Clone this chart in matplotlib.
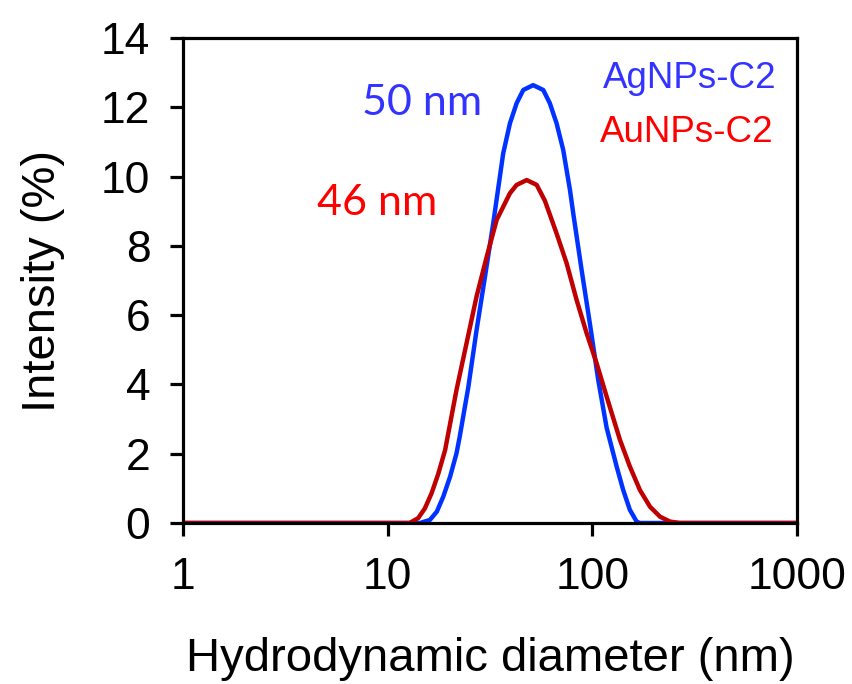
import matplotlib
matplotlib.use("Agg")
from matplotlib import pyplot as plt

# Hydrodynamic diameter (nm) and intensity (%)
ag_diameter = [1, 14.4, 16.1, 17.4, 18.7, 20.2, 21.7, 22.5, 24.8, 27.2, 29.9, 32.8, 36.7, 39.6,
               42.7, 46.0, 51.4, 57.6, 62.0, 66.9, 72.1, 77.8, 80.7, 88.7, 97.3, 106.9,
               117.5, 131.5, 141.6, 152.6, 164.7, 170.9, 1000]
ag_intensity = [0, 0, 0.09, 0.33, 0.76, 1.34, 2.01, 2.49, 3.93, 5.57, 7.11, 8.65, 10.67, 11.54,
                12.12, 12.50, 12.64, 12.50, 12.12, 11.54, 10.77, 9.61, 8.94, 7.30, 5.76, 4.13,
                2.75, 1.63, 0.95, 0.38, 0.04, 0, 0]

au_diameter = [1, 12.8, 14.1, 15.2, 16.4, 17.7, 19.1, 21.7, 24.3, 27.2, 30.5, 34.1, 39.6,
               42.7, 47.8, 53.5, 58.7, 66.9, 74.9, 83.8, 93.8, 105.0, 117.5, 136.5, 152.6,
               170.9, 191.4, 214.4, 240, 268, 1000]
au_intensity = [0, 0, 0.14, 0.42, 0.86, 1.43, 2.11, 3.84, 5.19, 6.54, 7.69, 8.75, 9.52,
                9.76, 9.90, 9.76, 9.30, 8.36, 7.50, 6.44, 5.48, 4.61, 3.65, 2.40, 1.63,
                0.95, 0.47, 0.18, 0.04, 0, 0]

plt.rcParams['font.family'] = ['Liberation Sans', 'DejaVu Sans']

fig = plt.figure(figsize=(8.53, 6.84), dpi=100)
ax = fig.add_axes([0.2145, 0.2354, 0.7198, 0.709])

ax.plot(ag_diameter, ag_intensity, color='#0033ff', lw=3.2, solid_joinstyle='round')
ax.plot(au_diameter, au_intensity, color='#c00000', lw=3.2, solid_joinstyle='round')

ax.set_xscale('log')
ax.set_xlim(1, 1000)
ax.set_ylim(0, 14)
ax.set_xticks([1, 10, 100, 1000])
ax.set_xticklabels(['1', '10', '100', '1000'])
ax.set_yticks(range(0, 15, 2))
ax.minorticks_off()

for s in ax.spines.values():
    s.set_linewidth(2.3)
ax.tick_params(axis='both', width=2.3, length=9.5, labelsize=32)
ax.tick_params(axis='y', pad=14)
ax.tick_params(axis='x', pad=15)

ax.set_xlabel('Hydrodynamic diameter (nm)', fontsize=34, labelpad=28)
ax.set_ylabel('Intensity (%)', fontsize=34, labelpad=26)

ax.text(0.291, 0.841, '50 nm', transform=ax.transAxes, color='#3333ff',
        fontsize=31, family='Lato', ha='left', va='baseline')
ax.text(0.218, 0.635, '46 nm', transform=ax.transAxes, color='#ff0000',
        fontsize=31, family='Lato', ha='left', va='baseline')
ax.text(0.684, 0.896, 'AgNPs-C2', transform=ax.transAxes, color='#3333ff',
        fontsize=26.5, ha='left', va='baseline')
ax.text(0.679, 0.786, 'AuNPs-C2', transform=ax.transAxes, color='#ff0000',
        fontsize=26.5, ha='left', va='baseline')

fig.savefig('out.png', dpi=100)
